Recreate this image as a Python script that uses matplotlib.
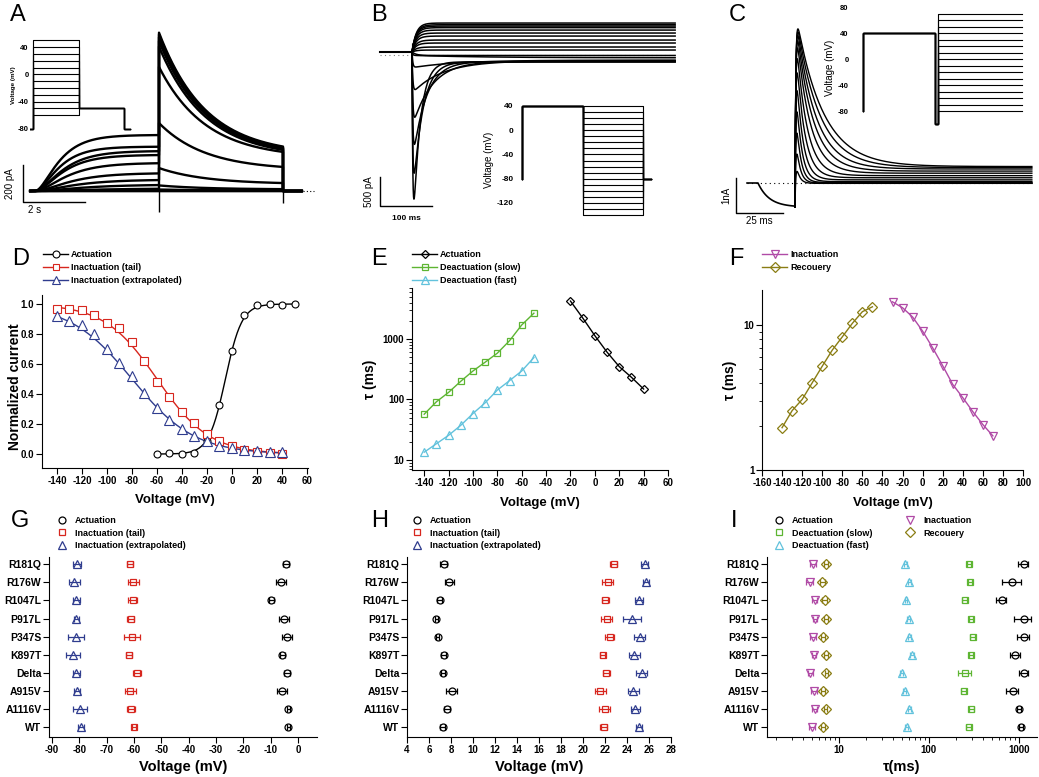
import numpy as np
import matplotlib
matplotlib.use('Agg')
import matplotlib.pyplot as plt
from matplotlib.lines import Line2D
from matplotlib.ticker import LogLocator, NullFormatter, FormatStrFormatter

plt.rcParams['font.family'] = ['Liberation Sans', 'DejaVu Sans']
plt.rcParams['font.weight'] = 'bold'
plt.rcParams['axes.labelweight'] = 'bold'
plt.rcParams['axes.unicode_minus'] = False
plt.rcParams['axes.linewidth'] = 0.8

W, H = 1039, 777

# ---------------- data ----------------
# A: activation protocol, sweeps -60..+50 mV, step 4 s then tail at -50 mV
a_volt = [-60, -50, -40, -30, -20, -10, 0, 10, 20, 30, 40, 50]
a_step_end = [0, 0, 4, 12, 32, 59, 95, 150, 194, 215, 239, 302]      # pA
a_tau_act = [2.0, 2.0, 1.8, 1.5, 1.2, 1.0, 0.9, 0.8, 0.7, 0.7, 0.6, 0.6]  # s
a_tail_peak = [0, 0, 8, 30, 124, 367, 670, 780, 810, 830, 845, 855]  # pA
a_tail_end = [0, 0, 3, 10, 43, 130, 211, 222, 228, 232, 236, 240]     # pA
a_tail_tau = 1.5
a_step_len = 4.0
a_tail_len = 4.0
a_cap = [-113, -65]

# B: deactivation, +40 mV prepulse then -140..+40 mV
b_volt = [-140, -130, -120, -110, -100, -90, -80, -70, -60, -50, -40, -30,
          -20, -10, 0, 10, 20, 30, 40]
b_peak = [-2550, -2100, -1600, -1130, -650, -260, -60, 0, 0, 0, 0, 0,
          0, 0, 0, 0, 0, 0, 0]
b_ss = [-170, -170, -165, -160, -150, -140, -100, -60, 34, 86, 155, 206,
        275, 327, 378, 420, 447, 470, 499]
b_tau = [13, 18, 25, 37, 58, 88, 140, 8, 8, 8, 8, 8, 8, 8, 8, 8, 8, 8, 8]
b_tau_rise = 1.5
b_len = 506

# C: inactivation, +40 prepulse, short -100 gap, then -80..+70 mV
c_volt = [-80, -70, -60, -50, -40, -30, -20, -10, 0, 10, 20, 30, 40, 50, 60, 70]
c_peak = [4430, 4350, 4250, 4100, 3900, 3600, 3200, 2700, 2100, 1500, 900, 400]
c_tau = [14, 12, 10, 8.5, 7, 5.5, 4.3, 3.4, 2.8, 2.3, 2.0, 1.7]
c_ss = [470, 440, 400, 340, 280, 210, 150, 90, 40, 15, 0, -10]
c_pre = -686
c_pre_on = -19.7
c_pre_tau = 6.0
c_len = 126

# D: steady-state curves
d_act_v = [-60, -50, -40, -30, -20, -10, 0, 10, 20, 30, 40, 50]
d_act = [0.0, 0.005, 0.0, 0.01, 0.09, 0.33, 0.69, 0.93, 0.995, 1.0, 0.995, 1.0]
d_inact_v = [-140, -130, -120, -110, -100, -90, -80, -70, -60, -50, -40, -30,
             -20, -10, 0, 10, 20, 30, 40]
d_tail = [0.97, 0.97, 0.96, 0.93, 0.875, 0.84, 0.745, 0.62, 0.48, 0.38, 0.28,
          0.205, 0.135, 0.09, 0.055, 0.03, 0.015, 0.008, 0.0]
d_ext = [0.92, 0.885, 0.86, 0.80, 0.70, 0.61, 0.52, 0.41, 0.31, 0.23, 0.165,
         0.12, 0.085, 0.055, 0.04, 0.025, 0.02, 0.015, 0.012]
d_fit_act = (-5.3, 6.6)
d_fit_tail = (-60.0, 21.0)
d_fit_ext = (-80.0, 25.0)

# E: time constants (ms)
e_act_v = [-20, -10, 0, 10, 20, 30, 40]
e_act = [4250, 2240, 1137, 607, 350, 233, 149]
e_deact_v = [-140, -130, -120, -110, -100, -90, -80, -70, -60, -50]
e_slow = [57, 91.5, 131, 200, 296, 414, 584, 938, 1711, 2680]
e_fast = [13.4, 18.5, 25.5, 37.3, 58.5, 88, 143, 205, 296, 494]

# F: time constants (ms)
f_inact_v = [-30, -20, -10, 0, 10, 20, 30, 40, 50, 60, 70]
f_inact = [14.5, 13.2, 11.4, 9.1, 6.98, 5.25, 3.9, 3.16, 2.53, 2.06, 1.72]
f_rec_v = [-140, -130, -120, -110, -100, -90, -80, -70, -60, -50]
f_rec = [1.96, 2.57, 3.07, 4.0, 5.21, 6.73, 8.31, 10.3, 12.4, 13.4]

# G/H/I: mutants (top to bottom)
mutants = ['R181Q', 'R176W', 'R1047L', 'P917L', 'P347S', 'K897T', 'Delta',
           'A915V', 'A1116V', 'WT']
g_act = [-4.3, -6.1, -9.7, -5.2, -4.0, -5.7, -4.0, -5.8, -3.5, -3.5]
g_act_err = [1.0, 1.8, 1.0, 1.8, 1.8, 1.0, 1.2, 2.0, 0.5, 0.6]
g_tail = [-61.4, -60.2, -60.5, -61.2, -60.8, -61.8, -59.0, -61.4, -61.0, -59.9]
g_tail_err = [1.0, 2.0, 1.5, 1.3, 3.0, 1.0, 1.5, 2.0, 1.5, 0.8]
g_ext = [-80.9, -81.9, -81.1, -81.1, -81.3, -82.4, -81.1, -80.9, -79.7, -79.4]
g_ext_err = [1.5, 2.0, 1.2, 1.0, 3.0, 2.5, 1.2, 1.0, 2.5, 1.0]

h_act = [7.33, 7.85, 6.97, 6.67, 6.79, 7.33, 7.27, 8.09, 7.64, 7.24]
h_act_err = [0.35, 0.4, 0.2, 0.15, 0.15, 0.2, 0.2, 0.5, 0.3, 0.2]
h_tail = [22.79, 22.27, 22.03, 22.18, 22.42, 21.79, 22.12, 21.58, 21.97, 21.88]
h_tail_err = [0.3, 0.5, 0.3, 0.5, 0.4, 0.25, 0.3, 0.5, 0.5, 0.3]
h_ext = [25.6, 25.73, 25.09, 24.45, 25.15, 24.67, 25.36, 24.55, 24.76, 25.09]
h_ext_err = [0.3, 0.3, 0.4, 0.8, 0.5, 0.5, 0.5, 0.5, 0.4, 0.3]

i_act = [1135, 850, 647, 1135, 1135, 918, 1135, 857, 1016, 1062]
i_act_err = [150, 200, 80, 250, 180, 120, 130, 130, 60, 50]
i_slow = [284, 291, 252, 298, 309, 298, 252, 246, 298, 278]
i_slow_err = [15, 15, 15, 15, 20, 15, 40, 15, 20, 15]
i_fast = [54.8, 61.2, 56.2, 60, 61, 65.6, 50.4, 54, 61, 57]
i_fast_err = [2, 2, 2, 2, 2, 3, 2, 2, 2, 2]
i_inact = [5.19, 4.77, 5.42, 5.5, 5.19, 5.3, 4.85, 5.3, 5.42, 5.1]
i_inact_err = [0.4, 0.4, 0.3, 0.3, 0.4, 0.3, 0.3, 0.4, 0.3, 0.4]
i_rec = [7.3, 6.6, 6.99, 7.3, 6.7, 7.2, 7.3, 6.7, 7.2, 6.7]
i_rec_err = [0.4, 0.4, 0.4, 0.4, 0.3, 0.4, 0.3, 0.4, 0.3, 0.3]

RED = '#d7261e'
BLUE = '#2f3c8e'
GREEN = '#5db532'
CYAN = '#62c2dc'
MAG = '#b04aa6'
OLIVE = '#8a7d14'


def box(x0, y0, x1, y1):
    return [x0 / W, 1 - y1 / H, (x1 - x0) / W, (y1 - y0) / H]


def style(ax):
    ax.spines['top'].set_visible(False)
    ax.spines['right'].set_visible(False)
    ax.tick_params(direction='out', length=4, width=0.8, labelsize=7, pad=1.5)
    ax.tick_params(which='minor', direction='out', length=2, width=0.6)


def boltz(v, p):
    return 1.0 / (1.0 + np.exp(-(v - p[0]) / p[1]))


def inset_style(ax, ticks):
    ax.set_yticks(ticks)
    ax.set_xticks([])
    for s in ax.spines.values():
        s.set_visible(False)
    ax.tick_params(axis='y', length=0, labelsize=5.5, pad=1)
    ax.patch.set_visible(False)


fig = plt.figure(figsize=(W / 100, H / 100), dpi=100)

# ---------------- A ----------------
axA = fig.add_axes(box(0, 20, 345, 230))
axA.axis('off')
axA.set_xlim(-35 / 31, 310 / 31)
axA.set_ylim(-39 * 5.4, 171 * 5.4)
t_s = np.linspace(0, a_step_len, 300)
t_t = np.linspace(0, a_tail_len, 300)
for ss, tau, pk, end in zip(a_step_end, a_tau_act, a_tail_peak, a_tail_end):
    step = ss * ((1 - np.exp(-t_s / tau)) / (1 - np.exp(-a_step_len / tau))) ** 2
    dec = (np.exp(-t_t / a_tail_tau) - np.exp(-a_tail_len / a_tail_tau)) / \
        (1 - np.exp(-a_tail_len / a_tail_tau))
    tail = end + (pk - end) * dec
    t_end = a_step_len + a_tail_len
    t = np.concatenate([[-0.15], t_s, a_step_len + t_t, [t_end, t_end + 0.6]])
    cur = np.concatenate([[0], step, tail, [0, 0]])
    axA.plot(t, cur, color='black', lw=1.7)
axA.vlines([a_step_len, a_step_len + a_tail_len], a_cap, [0, 0], color='black', lw=1)
axA.plot([a_step_len + a_tail_len, 9.0], [0, 0], ls=(0, (1, 2)), color='black', lw=0.8)
sx, sy = -0.39, -60
axA.plot([sx, sx, sx + 2], [sy + 200, sy, sy], color='black', lw=1)
axA.text(sx - 0.42, sy + 100, '200 pA', rotation=90, ha='center', va='center',
         fontsize=7, fontweight='normal')
axA.text(sx + 0.15, sy - 18, '2 s', ha='left', va='top', fontsize=7, fontweight='normal')

axAi = fig.add_axes(box(30, 35, 135, 135))
axAi.set_xlim(-3 / 11.375, 102 / 11.375)
axAi.set_ylim(-88.8, 57.6)
for v in a_volt:
    axAi.plot([-0.25, 0, 0, a_step_len, a_step_len, a_step_len + a_tail_len,
               a_step_len + a_tail_len, a_step_len + a_tail_len + 0.5],
              [-80, -80, v, v, -50, -50, -80, -80], color='black', lw=0.8)
inset_style(axAi, [40, 0, -40, -80])
axAi.set_ylabel('Voltage (mV)', fontsize=4.5, labelpad=1)

# ---------------- B ----------------
axB = fig.add_axes(box(370, 10, 690, 230))
axB.axis('off')
axB.set_xlim(-42 * 1.923, 278 * 1.923)
axB.set_ylim(-178 * 17.24, 42 * 17.24)
tb = np.concatenate([np.linspace(0, 20, 300), np.linspace(20, b_len, 300)])
axB.plot([-62, b_len], [-60, -60], ls=(0, (1, 3)), color='gray', lw=0.8)
axB.plot([-62, 0], [0, 0], color='black', lw=1.5)
for pk, ss, tau in zip(b_peak, b_ss, b_tau):
    if pk < 0:
        sh = np.exp(-tb / tau) - np.exp(-tb / b_tau_rise)
        cur = ss * (1 - np.exp(-tb / b_tau_rise)) + (pk - ss) * sh / sh.max()
    else:
        cur = ss * (1 - np.exp(-tb / tau))
    axB.plot(tb, cur, color='black', lw=1.1)
axB.vlines(0, -200, 150, color='black', lw=0.8)
bx, by = -61.5, -2655
axB.plot([bx, bx, bx + 100], [by + 500, by, by], color='black', lw=1)
axB.text(bx - 22, by + 250, '500 pA', rotation=90, ha='center', va='center',
         fontsize=7, fontweight='normal')
axB.text(bx + 50, by - 160, '100 ms', ha='center', va='top', fontsize=6)

axBi = fig.add_axes(box(515, 95, 660, 225))
axBi.set_xlim(-7 / 60.5, 138 / 60.5)
axBi.set_ylim(-156.3, 58.1)
for v in b_volt:
    axBi.plot([0, 0, 1, 1, 2, 2, 2.13], [-80, 40, 40, v, v, -80, -80],
              color='black', lw=0.8)
inset_style(axBi, [40, 0, -40, -80, -120])
axBi.tick_params(axis='y', labelsize=6)
axBi.set_ylabel('Voltage (mV)', fontsize=7, fontweight='normal', labelpad=2)

# ---------------- C ----------------
axC = fig.add_axes(box(730, 10, 1039, 230))
axC.axis('off')
axC.set_xlim(-65 * 0.532, 244 * 0.532)
axC.set_ylim(-47 * 28.57, 173 * 28.57)
axC.plot([-25.5, c_len], [0, 0], ls=(0, (1, 3)), color='black', lw=0.8)
tp = np.linspace(c_pre_on, 0, 100)
axC.plot(np.concatenate([[-25.5], tp]),
         np.concatenate([[0], c_pre * (1 - np.exp(-(tp - c_pre_on) / c_pre_tau))]),
         color='black', lw=1.2)
tc = np.concatenate([np.linspace(0, 3, 200), np.linspace(3, c_len, 500)])
for pk, tau, ss in zip(c_peak, c_tau, c_ss):
    sh = np.exp(-tc / tau) - np.exp(-tc / 0.4)
    cur = c_pre * np.exp(-tc / 0.4) + ss * (1 - np.exp(-tc / 0.4)) + (pk - ss) * sh / sh.max()
    axC.plot(np.concatenate([[0], tc]), np.concatenate([[c_pre], cur]),
             color='black', lw=1.0)
cx, cy = -31.4, -857
axC.plot([cx, cx, cx + 25], [cy + 1000, cy, cy], color='black', lw=1)
axC.text(cx - 5, cy + 500, '1nA', rotation=90, ha='center', va='center',
         fontsize=7, fontweight='normal', clip_on=False)
axC.text(cx + 12.5, cy - 100, '25 ms', ha='center', va='top', fontsize=7,
         fontweight='normal')

axCi = fig.add_axes(box(850, 0, 1039, 135))
axCi.set_xlim(-13 / 72, 176 / 72)
axCi.set_ylim(-116.9, 90.8)
for v in c_volt:
    axCi.plot([0, 0, 1, 1, 1.04, 1.04, 2.21], [-80, 40, 40, -100, -100, v, v],
              color='black', lw=0.8)
inset_style(axCi, [80, 40, 0, -40, -80])
axCi.set_ylabel('Voltage (mV)', fontsize=7, fontweight='normal', labelpad=2)

# ---------------- D ----------------
axD = fig.add_axes(box(42, 295, 308, 468))
style(axD)
vf = np.linspace(-60, 50, 200)
axD.plot(vf, boltz(vf, d_fit_act), color='black', lw=1)
vf2 = np.linspace(-140, 40, 200)
axD.plot(vf2, 1 - boltz(vf2, d_fit_tail), color=RED, lw=1)
axD.plot(vf2, 1 - boltz(vf2, d_fit_ext), color=BLUE, lw=1)
axD.plot(d_act_v, d_act, ls='none', marker='o', ms=5, mfc='white', mec='black', mew=0.8)
axD.plot(d_inact_v, d_tail, ls='none', marker='s', ms=5.5, mfc='white', mec=RED, mew=0.8)
axD.plot(d_inact_v, d_ext, ls='none', marker='^', ms=6.5, mfc='white', mec=BLUE, mew=0.8)
axD.set_xlim(-152, 60.8)
axD.set_ylim(-0.093, 1.06)
axD.set_xticks(range(-140, 61, 20))
axD.set_yticks([0, 0.2, 0.4, 0.6, 0.8, 1.0])
axD.yaxis.set_major_formatter(FormatStrFormatter('%.1f'))
axD.set_xlabel('Voltage (mV)', fontsize=9.5)
axD.set_ylabel('Normalized current', fontsize=10)
axD.yaxis.set_label_coords(-0.075, 0.47)
leg_kw = dict(loc='upper left', bbox_transform=fig.transFigure, frameon=False,
              fontsize=6.5, borderpad=0, borderaxespad=0)
axD.legend(handles=[
    Line2D([], [], color='black', lw=1, marker='o', ms=5, mfc='white', mew=0.8, label='Actuation'),
    Line2D([], [], color=RED, lw=1, marker='s', ms=5, mfc='white', mew=0.8, label='Inactuation (tail)'),
    Line2D([], [], color=BLUE, lw=1, marker='^', ms=6, mfc='white', mew=0.8, label='Inactuation (extrapolated)')],
    bbox_to_anchor=(43 / W, 1 - 250 / H), handlelength=2.8, handletextpad=0.3,
    labelspacing=0.45, **leg_kw)

# ---------------- E ----------------
axE = fig.add_axes(box(412, 288, 668, 470))
style(axE)
axE.set_yscale('log')
axE.plot(e_act_v, e_act, color='black', lw=1, marker='D', ms=4.5, mfc='none', mew=0.9,
         label='Actuation')
axE.plot(e_deact_v, e_slow, color=GREEN, lw=1, marker='s', ms=5, mfc='none', mew=0.9,
         label='Deactuation (slow)')
axE.plot(e_deact_v, e_fast, color=CYAN, lw=1, marker='^', ms=6, mfc='none', mew=0.9,
         label='Deactuation (fast)')
axE.set_xlim(-150, 60)
axE.set_ylim(6.8, 7000)
axE.set_xticks(range(-140, 61, 20))
axE.set_yticks([10, 100, 1000], labels=['10', '100', '1000'])
axE.yaxis.set_minor_locator(LogLocator(base=10, subs=np.arange(2, 10)))
axE.yaxis.set_minor_formatter(NullFormatter())
axE.set_xlabel('Voltage (mV)', fontsize=9.5)
axE.set_ylabel('τ (ms)', fontsize=10)
axE.yaxis.set_label_coords(-0.137, 0.5)
axE.legend(bbox_to_anchor=(412 / W, 1 - 250 / H), handlelength=2.8,
           handletextpad=0.3, labelspacing=0.45, **leg_kw)

# ---------------- F ----------------
axF = fig.add_axes(box(762, 290, 1023, 470))
style(axF)
axF.set_yscale('log')
axF.plot(f_inact_v, f_inact, color=MAG, lw=1, marker='v', ms=6, mfc='none', mew=0.9,
         label='Inactuation')
axF.plot(f_rec_v, f_rec, color=OLIVE, lw=1, marker='D', ms=5, mfc='none', mew=0.9,
         label='Recouery')
axF.set_xlim(-160, 100)
axF.set_ylim(1, 17.5)
axF.set_xticks(range(-160, 101, 20))
axF.set_yticks([1, 10], labels=['1', '10'])
axF.yaxis.set_minor_locator(LogLocator(base=10, subs=np.arange(2, 10)))
axF.yaxis.set_minor_formatter(NullFormatter())
axF.set_xlabel('Voltage (mV)', fontsize=9.5)
axF.set_ylabel('τ (ms)', fontsize=10)
axF.yaxis.set_label_coords(-0.096, 0.5)
axF.legend(bbox_to_anchor=(762 / W, 1 - 250 / H), handlelength=2.8,
           handletextpad=0.3, labelspacing=0.45, **leg_kw)

# ---------------- G / H / I ----------------
ypos = np.arange(len(mutants))[::-1]


def mut_series(ax, vals, errs, color, marker, ms, label):
    ax.errorbar(vals, ypos, xerr=errs, fmt='none', ecolor=color, elinewidth=0.9,
                capsize=2.5, capthick=0.9)
    ax.plot(vals, ypos, ls='none', marker=marker, ms=ms, mfc='none', mec=color,
            mew=0.9, label=label)


def mut_axes(ax):
    style(ax)
    ax.set_yticks(ypos, labels=mutants)
    ax.tick_params(axis='y', labelsize=7.5)
    ax.set_ylim(-0.55, 9.4)


axG = fig.add_axes(box(49, 557, 317, 737))
mut_axes(axG)
mut_series(axG, g_act, g_act_err, 'black', 'o', 5, 'Actuation')
mut_series(axG, g_tail, g_tail_err, RED, 's', 5, 'Inactuation (tail)')
mut_series(axG, g_ext, g_ext_err, BLUE, '^', 6, 'Inactuation (extrapolated)')
axG.set_xlim(-91.1, 7)
axG.set_xticks(range(-90, 1, 10))
axG.set_xlabel('Voltage (mV)', fontsize=10.5)

axH = fig.add_axes(box(407, 557, 671, 737))
mut_axes(axH)
mut_series(axH, h_act, h_act_err, 'black', 'o', 5, 'Actuation')
mut_series(axH, h_tail, h_tail_err, RED, 's', 5, 'Inactuation (tail)')
mut_series(axH, h_ext, h_ext_err, BLUE, '^', 6, 'Inactuation (extrapolated)')
axH.set_xlim(4, 28)
axH.set_xticks(range(4, 29, 2))
axH.set_xlabel('Voltage (mV)', fontsize=10.5)

axI = fig.add_axes(box(767, 557, 1037, 737))
mut_axes(axI)
axI.set_xscale('log')
mut_series(axI, i_act, i_act_err, 'black', 'o', 5, 'Actuation')
mut_series(axI, i_slow, i_slow_err, GREEN, 's', 5, 'Deactuation (slow)')
mut_series(axI, i_fast, i_fast_err, CYAN, '^', 6, 'Deactuation (fast)')
mut_series(axI, i_inact, i_inact_err, MAG, 'v', 6, 'Inactuation')
mut_series(axI, i_rec, i_rec_err, OLIVE, 'D', 5, 'Recouery')
axI.set_xlim(1.6, 1600)
axI.set_xticks([10, 100, 1000], labels=['10', '100', '1000'])
axI.xaxis.set_minor_locator(LogLocator(base=10, subs=np.arange(2, 10)))
axI.xaxis.set_minor_formatter(NullFormatter())
axI.set_xlabel('τ(ms)', fontsize=10.5)

for ax, x0 in [(axG, 57), (axH, 412)]:
    ax.legend(bbox_to_anchor=(x0 / W, 1 - 516 / H), handlelength=1.2,
              handletextpad=0.8, labelspacing=0.4, **leg_kw)
hI, lI = axI.get_legend_handles_labels()
axI.legend(hI, lI, ncol=2, bbox_to_anchor=(774 / W, 1 - 516 / H), handlelength=1.2,
           handletextpad=0.8, labelspacing=0.4, columnspacing=3.6, **leg_kw)

for ax in [axD, axE, axF]:
    ax.xaxis.set_label_coords(0.5, -0.15)
for ax in [axG, axH, axI]:
    ax.xaxis.set_label_coords(0.5, -0.13)

# panel letters
for letter, x, y in [('A', 10, 4), ('B', 371, 4), ('C', 729, 4),
                     ('D', 12, 248), ('E', 371, 248), ('F', 729, 248),
                     ('G', 11, 510), ('H', 371, 510), ('I', 731, 510)]:
    fig.text(x / W, 1 - y / H, letter, fontsize=17, fontweight='normal',
             ha='left', va='top')

fig.savefig('out.png', dpi=100)
